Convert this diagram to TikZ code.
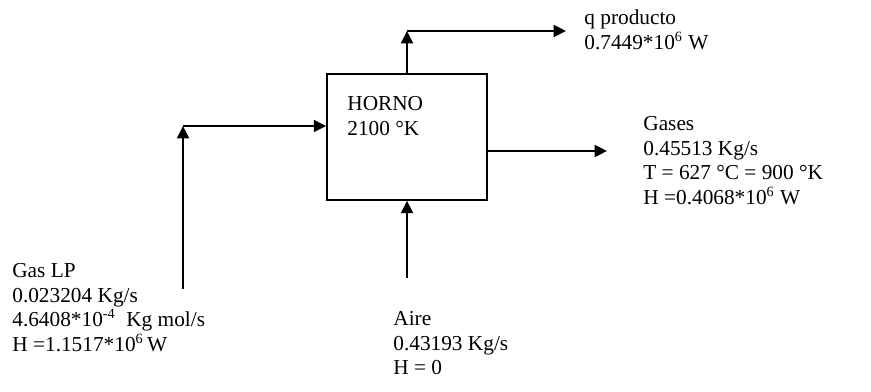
\documentclass[tikz,border=0pt]{standalone}
\usepackage{fontspec}
\setmainfont{Liberation Serif}
\usetikzlibrary{positioning,arrows.meta,calc}

\begin{document}
\begin{tikzpicture}[
  x=0.563pt, y=-0.563pt,
  font=\fontsize{12}{13.8}\selectfont,
  horno/.style={draw, line width=0.9pt, inner sep=0, minimum width=90.1pt, minimum height=70.9pt},
  lbl/.style={align=left, inner sep=0, anchor=north west},
  flow/.style={-{Triangle[length=7pt, width=6.8pt]}, line width=0.9pt}]
\useasboundingbox (0,0) rectangle (871,392);
% furnace
\node[horno] (box) at (407,137) {};
\node[lbl] (hornolab) at (347,93) {\strut HORNO\\2100 °K};
% end points of the streams
\coordinate (qtop) at (407,31);
\coordinate (qend) at (566,31);
\coordinate (gasend) at (607,151);
\coordinate (lpbot) at (183,289);
\coordinate (lptop) at (183,126);
\coordinate (airebot) at (407,278);
% stream labels
\node[lbl] (qlab) at (584,7) {\strut q producto\\0.7449*10\textsuperscript{6} W};
\node[lbl] (gaseslab) at (643,113) {\strut Gases\\0.45513 Kg/s\\T = 627 °C = 900 °K\\H =0.4068*10\textsuperscript{6} W};
\node[lbl] (lplab) at (12,260) {\strut Gas LP\\0.023204 Kg/s\\4.6408*10\textsuperscript{-4}\ \ Kg mol/s\\H =1.1517*10\textsuperscript{6}\,W};
\node[lbl] (airelab) at (393,308) {\strut Aire\\0.43193 Kg/s\\H = 0};
% streams
\draw[flow] (box.north) -- (qtop);
\draw[flow] (qtop) -- (qend);
\draw[flow] (box.east |- gasend) -- (gasend);
\draw[flow] (lpbot) -- (lptop);
\draw[flow] (lptop) -- (lptop -| box.west);
\draw[flow] (airebot) -- (box.south);
\end{tikzpicture}
\end{document}
